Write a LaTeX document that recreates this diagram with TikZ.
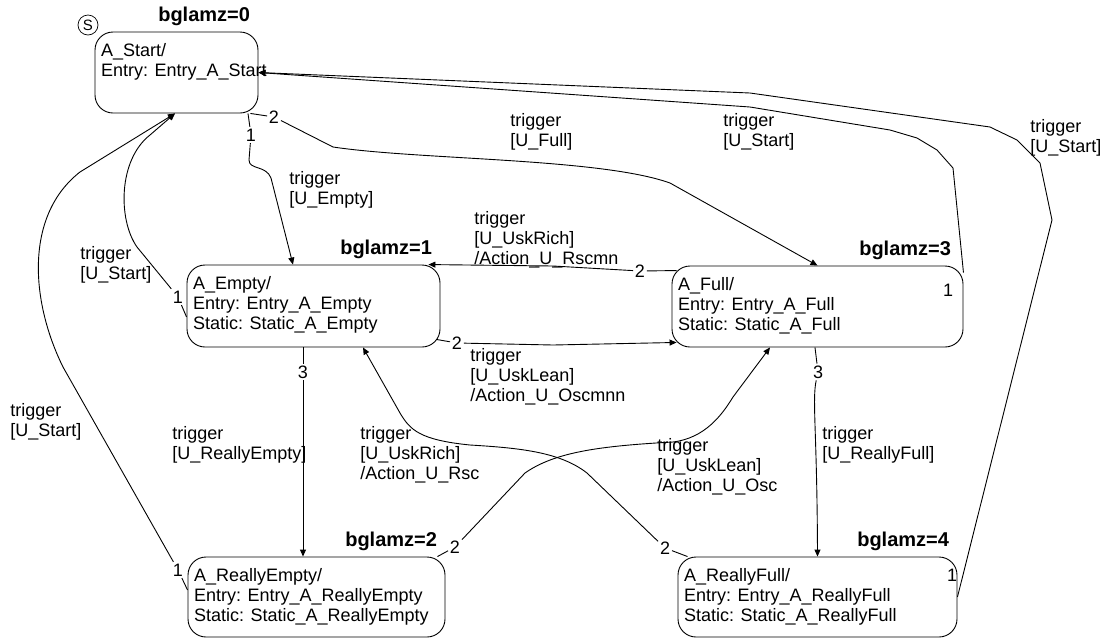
\documentclass[tikz,border=0pt]{standalone}
\usepackage{fontspec}
\setmainfont{Liberation Sans}
\usepackage{tikz}
\usetikzlibrary{arrows.meta, positioning}

\begin{document}
\begin{tikzpicture}[x=1pt,y=-1pt]

\tikzset{state/.style = {shape=rectangle,draw,rounded corners=18pt}}
\tikzset{stxt/.style = {anchor=north west,align=left,inner sep=0pt,font=\fontsize{18}{20}\selectfont}}
\tikzset{sname/.style = {anchor=base east,inner sep=0pt,font=\fontsize{20}{24}\selectfont\bfseries}}
\tikzset{trig/.style = {anchor=north west,align=left,inner sep=0pt,font=\fontsize{18}{20}\selectfont}}
\tikzset{num/.style = {inner sep=1.5pt,font=\fontsize{18}{20}\selectfont}}
\tikzset{every path/.style = {line width=0.9pt}}
\tikzset{tr/.style = {-{Triangle[length=7pt,width=6pt]}}}
\useasboundingbox (0,0) rectangle (1104,638);

% states
\node[state,minimum width=163,minimum height=81] (start) at (176.5,72.5) {};
\node[state,minimum width=253,minimum height=82] (empty) at (313.5,306) {};
\node[state,minimum width=291,minimum height=81] (full) at (817.5,306.5) {};
\node[state,minimum width=257,minimum height=80] (rempty) at (316.5,597) {};
\node[state,minimum width=279,minimum height=80] (rfull) at (817.5,597) {};

\node[stxt] (tstart) at ([xshift=6,yshift=-11]start.north west) {A\_Start/\\Entry: Entry\_A\_Start};
\node[stxt] (tempty) at ([xshift=6,yshift=-11]empty.north west) {A\_Empty/\\Entry: Entry\_A\_Empty\\Static: Static\_A\_Empty};
\node[stxt] (tfull) at ([xshift=6,yshift=-11]full.north west) {A\_Full/\\Entry: Entry\_A\_Full\\Static: Static\_A\_Full};
\node[stxt] (trempty) at ([xshift=6,yshift=-11]rempty.north west) {A\_ReallyEmpty/\\Entry: Entry\_A\_ReallyEmpty\\Static: Static\_A\_ReallyEmpty};
\node[stxt] (trfull) at ([xshift=6,yshift=-11]rfull.north west) {A\_ReallyFull/\\Entry: Entry\_A\_ReallyFull\\Static: Static\_A\_ReallyFull};

\node[sname] (bz0) at ([xshift=-8,yshift=10]start.north east) {bglamz=0};
\node[sname] (bz1) at ([xshift=-8,yshift=10]empty.north east) {bglamz=1};
\node[sname] (bz3) at ([xshift=-12,yshift=10]full.north east) {bglamz=3};
\node[sname] (bz2) at ([xshift=-8,yshift=10]rempty.north east) {bglamz=2};
\node[sname] (bz4) at ([xshift=-8,yshift=10]rfull.north east) {bglamz=4};

\node[draw,circle,minimum size=20,inner sep=0pt,line width=0.7pt,font=\fontsize{15}{15}\selectfont] (init) at (88,25) {S};

% priorities
\node[num] (n1) at (251,135) {1};
\node[num] (n2) at (274,117) {2};
\node[num] (n3) at (178,297) {1};
\node[num] (n4) at (178,570) {1};
\node[num] (n5) at (948,290) {1};
\node[num] (n6) at (952,575) {1};
\node[num] (n7) at (640,271) {2};
\node[num] (n8) at (457,343) {2};
\node[num] (n9) at (303,372) {3};
\node[num] (n10) at (818,372) {3};
\node[num] (n11) at (455,547) {2};
\node[num] (n12) at (665,548) {2};

%edges
\draw[tr] ([xshift=71.5]start.south) -- (n1) -- (249,160) .. controls (249,170) and (266,165) .. (271,178) -- ([xshift=-20.5]empty.north);
\draw[tr] ([xshift=-8]start.south east) -- (n2) -- (333,147) .. controls (420,160) and (600,158) .. (670,183) -- (full.north);
\draw[tr] ([yshift=-11]empty.west) -- (n3) -- (137,247) .. controls (118,220) and (118,160) .. (150,135) -- ([xshift=-1.5]start.south);
\draw[tr] ([yshift=7]rempty.west) -- (n4) -- (63,367) .. controls (30,300) and (25,215) .. (80,172) -- ([xshift=-1.5]start.south);
\draw[tr] ([yshift=-7]full.north east) -- (953,168) -- (937,150) -- (917,138) -- (890,130) -- (750,107) -- (start.east);
\draw[tr] (rfull.east) -- (1052,220) -- (1040,163) -- (1017,140) -- (990,127) -- (750,93) -- (start.east);
\draw[tr] ([xshift=5,yshift=-5]full.north west) -- (n7) -- (553,266) -- ([xshift=-12]empty.north east);
\draw[tr] ([xshift=-4,yshift=8]empty.south east) -- (n8) -- (553,345) -- ([xshift=5,yshift=5]full.south west);
\draw[tr] ([xshift=-10.5]empty.south) -- (n9) -- ([xshift=-13.5]rempty.north);
\draw[tr] ([xshift=-2.5]full.south) -- (n10) .. controls (812,400) and (817,430) .. (rfull.north);
\draw[tr] ([xshift=-8]rempty.north east) -- (n11) -- (525,473) .. controls (555,452) and (600,446) .. (673,442) .. controls (705,438) and (722,415) .. (733,397) -- ([xshift=-47.5]full.south);
\draw[tr] ([xshift=10]rfull.north west) -- (n12) -- (587,473) .. controls (560,452) and (520,448) .. (470,445) .. controls (420,440) and (410,430) .. (400,413) -- ([xshift=49.5]empty.south);

% labels
\node[trig] (l1) at (289,171) {trigger\\{[}U\_Empty{]}};
\node[trig] (l2) at (510,113) {trigger\\{[}U\_Full{]}};
\node[trig] (l3) at (80,246) {trigger\\{[}U\_Start{]}};
\node[trig] (l4) at (10,403) {trigger\\{[}U\_Start{]}};
\node[trig] (l5) at (723,113) {trigger\\{[}U\_Start{]}};
\node[trig] (l6) at (1030,119) {trigger\\{[}U\_Start{]}};
\node[trig] (l7) at (474,211) {trigger\\{[}U\_UskRich{]}\\/Action\_U\_Rscmn};
\node[trig] (l8) at (470,348) {trigger\\{[}U\_UskLean{]}\\/Action\_U\_Oscmnn};
\node[trig] (l9) at (172,426) {trigger\\{[}U\_ReallyEmpty{]}};
\node[trig] (l10) at (822,426) {trigger\\{[}U\_ReallyFull{]}};
\node[trig] (l11) at (657,438) {trigger\\{[}U\_UskLean{]}\\/Action\_U\_Osc};
\node[trig] (l12) at (360,426) {trigger\\{[}U\_UskRich{]}\\/Action\_U\_Rsc};
\end{tikzpicture}
\end{document}
